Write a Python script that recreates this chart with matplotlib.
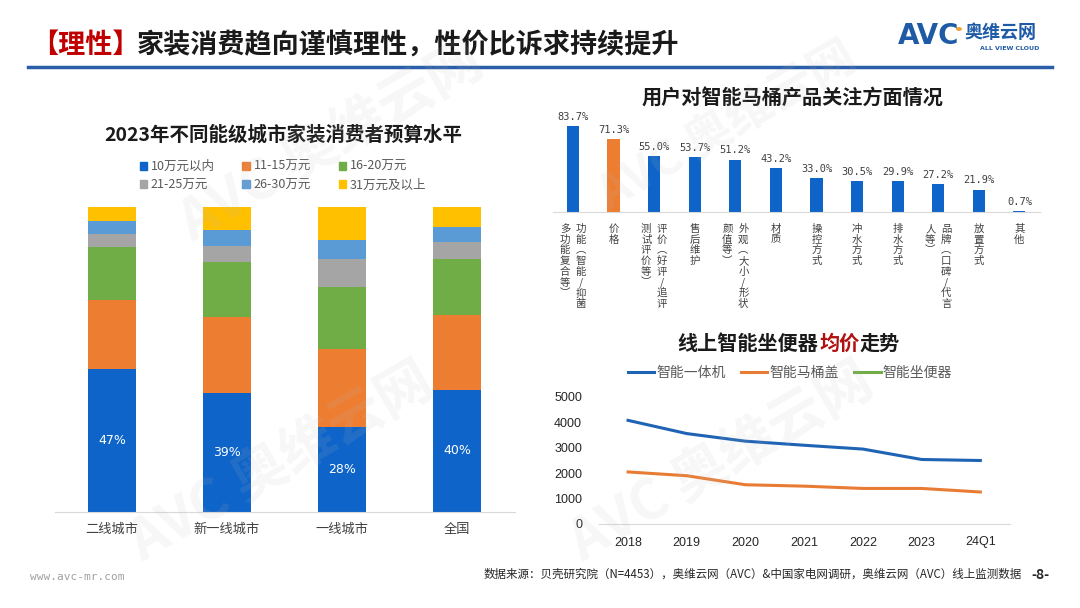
import matplotlib.pyplot as plt
import matplotlib.transforms as mtransforms
from matplotlib.patches import Patch, Rectangle, Circle
from matplotlib.lines import Line2D

plt.rcParams['font.family'] = ['Noto Sans CJK SC', 'DejaVu Sans']

# 左图：不同能级城市家装消费者预算水平 (%)
cities = ['二线城市', '新一线城市', '一线城市', '全国']
budget_labels = ['10万元以内', '11-15万元', '16-20万元', '21-25万元', '26-30万元', '31万元及以上']
budget_colors = ['#0E64C8', '#ED7D31', '#70AD47', '#A5A5A5', '#5B9BD5', '#FFC000']
budget_under_10 = [47, 39, 28, 40]
budget_11_15 = [22.5, 25.0, 25.3, 24.6]
budget_16_20 = [17.3, 17.9, 20.5, 18.5]
budget_21_25 = [4.4, 5.3, 9.0, 5.4]
budget_26_30 = [4.3, 5.4, 6.4, 4.8]
budget_over_31 = [4.5, 7.4, 10.8, 6.7]

# 右上：用户对智能马桶产品关注方面 (%)
focus_pct = [83.7, 71.3, 55.0, 53.7, 51.2, 43.2, 33.0, 30.5, 29.9, 27.2, 21.9, 0.7]
# 每个标签按竖排列拆分（第一列在右）
focus_labels = [
    ['功能︵智能/抑菌/', '多功能复合等︶'],
    ['价格'],
    ['评价︵好评/追评/', '测试评价等︶'],
    ['售后维护'],
    ['外观︵大小/形状/', '颜值等︶'],
    ['材质'],
    ['操控方式'],
    ['冲水方式'],
    ['排水方式'],
    ['品牌︵口碑/代言', '人等︶'],
    ['放置方式'],
    ['其他'],
]
focus_colors = ['#0E64C8', '#ED7D31'] + ['#0E64C8'] * 10

# 右下：线上智能坐便器均价走势 (元)
years = ['2018', '2019', '2020', '2021', '2022', '2023', '24Q1']
price_one_piece = [4080, 3560, 3260, 3100, 2950, 2540, 2500]
price_seat_cover = [2050, 1900, 1545, 1490, 1400, 1400, 1260]
series_names = ['智能一体机', '智能马桶盖', '智能坐便器']
series_colors = ['#1F63B4', '#E97C35', '#70AD47']

W, H = 1080, 608


def fx(px):
    return px / W


def fy(py):
    return 1 - py / H


fig = plt.figure(figsize=(10.8, 6.08), dpi=100)

# ---------- 页面标题 ----------
fig.text(fx(31), fy(45), '【理性】', fontsize=19.5, weight='bold', color='#C00000', va='center')
fig.text(fx(137), fy(45), '家装消费趋向谨慎理性，性价比诉求持续提升', fontsize=19.5,
         weight='bold', color='#1A1A1A', va='center')
fig.add_artist(Line2D([fx(28), fx(1052)], [fy(67), fy(67)], color='#2A5EA8', lw=2.5))

# logo
fig.text(fx(898), fy(36), 'AVC', fontsize=20, weight='heavy', color='#1E5AA6', va='center',
         family='DejaVu Sans')
fig.add_artist(Circle((fx(959), fy(29)), 2.2 / W, transform=fig.transFigure, color='#F0A030'))
fig.text(fx(964), fy(33), '奥维云网', fontsize=13, weight='bold', color='#1E5AA6', va='center')
fig.text(fx(980), fy(48), 'ALL VIEW CLOUD', fontsize=4.5, weight='bold', color='#1E5AA6',
         va='center', family='DejaVu Sans')

# 水印
for (wx, wy, ws) in [(120, 560, 40), (560, 560, 40), (170, 240, 40), (590, 210, 34)]:
    fig.text(fx(wx), fy(wy), 'AVC 奥维云网', fontsize=ws, weight='bold', color='#BBBBBB',
             alpha=0.12, rotation=30, zorder=10)

# ---------- 左图 ----------
ax1 = fig.add_axes([fx(54.5), fy(512), 460 / W, 305 / H])
series = [budget_under_10, budget_11_15, budget_16_20, budget_21_25, budget_26_30, budget_over_31]
bottom = [0, 0, 0, 0]
bars = []
for vals, col, lab in zip(series, budget_colors, budget_labels):
    b = ax1.bar(range(len(cities)), vals, width=0.41, bottom=bottom, color=col, label=lab)
    bars.append(b)
    bottom = [a + v for a, v in zip(bottom, vals)]

for rect, v in zip(bars[0], budget_under_10):
    ax1.text(rect.get_x() + rect.get_width() / 2, v / 2, f'{v:.0f}%', ha='center', va='center',
             color='white', fontsize=9, family='DejaVu Sans')

ax1.set_xlim(-0.5, 3.5)
ax1.set_ylim(0, 100)
ax1.set_xticks(range(len(cities)))
ax1.set_xticklabels(cities, fontsize=9.5, color='#404040')
ax1.tick_params(axis='x', length=0, pad=8)
ax1.set_yticks([])
for s in ['top', 'right', 'left']:
    ax1.spines[s].set_visible(False)
ax1.spines['bottom'].set_color('#D9D9D9')

fig.text(fx(283), fy(135), '2023年不同能级城市家装消费者预算水平', fontsize=14, weight='bold',
         color='#1A1A1A', ha='center', va='center')

handles = [Patch(color=c) for c in budget_colors]
order = [0, 3, 1, 4, 2, 5]
fig.legend([handles[i] for i in order], [budget_labels[i] for i in order], loc='center',
           bbox_to_anchor=(fx(283), fy(176)), ncol=3, frameon=False, fontsize=9,
           labelcolor='#595959', handlelength=0.6, handleheight=0.6, handletextpad=0.3,
           columnspacing=2.2, labelspacing=0.45)

# ---------- 右上图 ----------
ax2 = fig.add_axes([fx(552.7), fy(212), 487 / W, 92 / H])
xs = range(len(focus_pct))
ax2.bar(xs, focus_pct, width=0.3, color=focus_colors)
for x, v in zip(xs, focus_pct):
    ax2.annotate(f'{v:.1f}%', (x, v), xytext=(0, 3), textcoords='offset points', ha='center',
                 va='bottom', fontsize=7.5, color='#404040', family='DejaVu Sans Mono',
                 annotation_clip=False)
ax2.set_xlim(-0.5, len(focus_pct) - 0.5)
ax2.set_ylim(0, 90)
ax2.set_xticks([])
ax2.set_yticks([])
for s in ['top', 'right', 'left']:
    ax2.spines[s].set_visible(False)
ax2.spines['bottom'].set_color('#D9D9D9')

clip_rect = Rectangle((0, fy(308)), 1, 308 / H, transform=fig.transFigure)
for x, cols in zip(xs, focus_labels):
    n = len(cols)
    for k, col_text in enumerate(cols):
        dx = (n - 1) * 8 - k * 16
        tr = mtransforms.offset_copy(ax2.get_xaxis_transform(), fig=fig, x=dx, y=-12, units='dots')
        t = ax2.text(x, 0, '\n'.join(col_text), transform=tr, ha='center', va='top',
                     fontsize=7.5, color='#404040', linespacing=1.08)
        t.set_clip_path(clip_rect)
        t.set_clip_on(True)

fig.text(fx(792), fy(97), '用户对智能马桶产品关注方面情况', fontsize=14.5, weight='bold',
         color='#1A1A1A', ha='center', va='center')

# ---------- 右下图 ----------
ax3 = fig.add_axes([fx(598.7), fy(524), 411 / W, 127 / H])
ax3.plot(range(len(years)), price_one_piece, color=series_colors[0], lw=2.2, label=series_names[0])
ax3.plot(range(len(years)), price_seat_cover, color=series_colors[1], lw=2.2, label=series_names[1])
ax3.plot([], [], color=series_colors[2], lw=2.2, label=series_names[2])
ax3.set_xlim(-0.5, len(years) - 0.5)
ax3.set_ylim(0, 5000)
ax3.set_yticks(range(0, 5001, 1000))
ax3.set_xticks(range(len(years)))
ax3.set_xticklabels(years)
ax3.tick_params(length=0, labelsize=9, colors='#262626')
ax3.tick_params(axis='y', pad=12)
ax3.tick_params(axis='x', pad=9)
plt.setp(ax3.get_xticklabels() + ax3.get_yticklabels(), family='Liberation Sans')
for s in ['top', 'right', 'left']:
    ax3.spines[s].set_visible(False)
ax3.spines['bottom'].set_color('#D9D9D9')

fig.legend(*ax3.get_legend_handles_labels(), loc='center', bbox_to_anchor=(fx(790), fy(373)),
           ncol=3, frameon=False, fontsize=10, labelcolor='#595959', handlelength=1.9,
           handletextpad=0.15, columnspacing=1.1)

fig.text(fx(677), fy(343), '线上智能坐便器', fontsize=14.5, weight='bold', color='#1A1A1A', va='center')
fig.text(fx(819), fy(343), '均价', fontsize=14.5, weight='bold', color='#B01010', va='center')
fig.text(fx(860), fy(343), '走势', fontsize=14.5, weight='bold', color='#1A1A1A', va='center')

# ---------- 页脚 ----------
fig.text(fx(30), fy(577), 'www.avc-mr.com', fontsize=8, color='#A0A0A0', va='center',
         family='DejaVu Sans Mono')
fig.text(fx(1022), fy(574), '数据来源：贝壳研究院（N=4453），奥维云网（AVC）&中国家电网调研，奥维云网（AVC）线上监测数据',
         fontsize=8.3, color='#262626', va='center', ha='right')
fig.text(fx(1040), fy(575), '-8-', fontsize=10, weight='bold', color='#262626', va='center', ha='center')

fig.savefig('out.png', dpi=100)
